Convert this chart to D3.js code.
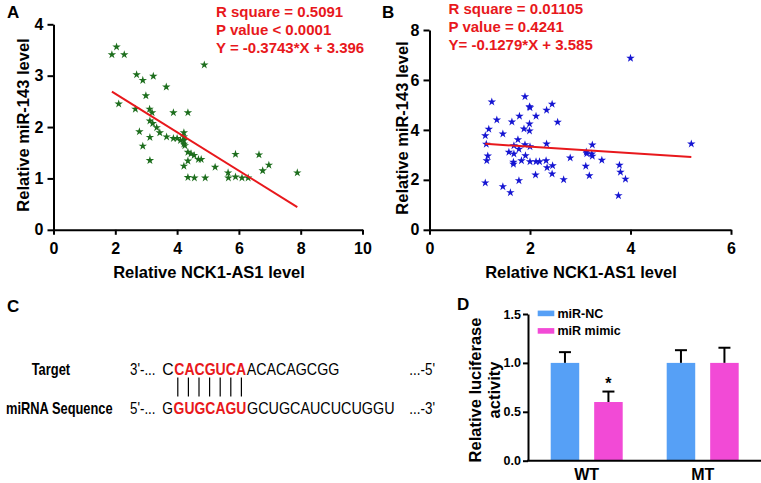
<!DOCTYPE html>
<html><head><meta charset="utf-8">
<script src="https://cdn.jsdelivr.net/npm/d3@7"></script>
<style>body{margin:0;background:#fff}svg{display:block}text{font-family:"Liberation Sans",Arial,Helvetica,sans-serif}</style>
</head><body><svg id="c" width="761" height="483"></svg>
<script>
// ---- Panel A data ----
const aX=[1.89,2.04,2.29,2.11,2.69,2.89,3.23,2.99,3.65,4.88,2.65,3.11,3.19,3.12,3.21,3.34,3.44,2.78,3.12,2.89,3.12,3.66,3.88,4.35,3.88,4.0,4.11,4.22,4.22,4.22,4.22,4.25,4.35,4.45,4.55,4.35,4.69,4.78,4.22,4.35,4.56,4.91,5.23,5.65,5.66,5.89,5.89,6.10,6.30,6.65,6.77,6.97,7.89];
const aY=[3.41,3.56,3.41,2.45,3.02,2.91,2.99,2.61,2.78,3.21,2.35,2.35,2.28,2.12,2.07,1.99,1.89,1.91,1.80,1.63,1.35,1.81,2.28,2.28,1.78,1.78,1.74,1.89,1.81,1.74,1.67,1.64,1.51,1.48,1.45,1.34,1.37,1.37,1.24,1.02,1.01,1.01,1.22,1.11,1.01,1.47,1.03,1.01,1.01,1.46,1.15,1.26,1.11];
const aFit={slope:-0.3743,intercept:3.396};
const aStats=["R square = 0.5091","P value < 0.0001","Y = -0.3743*X + 3.396"];
const aXTicks=[0,2,4,6,8,10], aYTicks=[0,1,2,3,4];
// ---- Panel B data ----
const bX=[1.11,1.13,1.18,1.24,1.14,1.16,1.11,1.34,1.46,1.46,1.58,1.61,1.64,1.67,1.67,1.68,1.68,1.76,1.79,1.78,1.78,1.83,1.88,1.90,1.90,1.91,1.99,2.0,1.99,1.99,2.0,2.0,2.12,2.12,2.19,2.11,2.33,2.33,2.32,2.34,2.44,2.45,2.44,2.55,2.67,2.80,3.12,3.13,3.11,3.18,3.24,3.23,3.24,3.43,3.78,3.80,3.90,3.76,4.0,5.21];
const bY=[3.77,3.43,4.03,5.12,2.77,2.96,1.88,4.40,3.84,1.73,3.11,1.49,4.32,2.71,2.63,3.04,3.37,3.61,4.55,3.23,1.97,2.77,4.04,5.33,3.41,2.97,4.93,4.89,4.24,3.96,3.33,2.73,4.55,2.73,2.73,2.20,4.79,3.44,2.77,2.49,5.03,2.57,2.24,4.31,2.01,2.88,3.12,3.05,2.55,2.17,3.40,3.04,2.95,2.79,2.59,2.31,2.03,1.37,6.87,3.44];
const bFit={slope:-0.1279,intercept:3.585};
const bStats=["R square = 0.01105","P value = 0.4241","Y= -0.1279*X + 3.585"];
const bXTicks=[0,2,4,6], bYTicks=[0,2,4,6,8];
// ---- Panel C sequences ----
const targetParts=[["C",false],["CACGUCA",true],["ACACAGCGG",false]];
const mirnaParts=[["G",false],["GUGCAGU",true],["GCUGCAUCUCUGGU",false]];
const pairCount=7;
// ---- Panel D data ----
const groups=["WT","MT"];
const series=["miR-NC","miR mimic"];
const ncValues=[1.0,1.0], mimicValues=[0.60,1.0];
const ncErr=[0.11,0.13], mimicErr=[0.107,0.155];
const dYTicks=[0,0.5,1.0,1.5];
const mimicSig=["*",""];

const svg=d3.select("#c");
const FONT='"Liberation Sans",Arial,sans-serif';
const RED="#e8181c";

function styleAxis(g,fs){
  g.select(".domain").attr("stroke","#000").attr("stroke-width",2);
  g.selectAll(".tick line").attr("stroke","#000").attr("stroke-width",2);
  g.selectAll(".tick text").attr("font-size",fs).attr("font-weight","bold").attr("fill","#000").attr("font-family",FONT);
}

function scatterPanel(o){
  const x=d3.scaleLinear().domain(o.xd).range(o.xr);
  const y=d3.scaleLinear().domain(o.yd).range(o.yr);
  const g=svg.append("g");
  const gx=g.append("g").attr("transform",`translate(0,${o.yr[0]})`)
    .call(d3.axisBottom(x).tickValues(o.xt).tickSize(5).tickSizeOuter(0).tickPadding(8).tickFormat(d3.format("d")));
  styleAxis(gx,16);
  const gy=g.append("g").attr("transform",`translate(${o.xr[0]},0)`)
    .call(d3.axisLeft(y).tickValues(o.yt).tickSize(6).tickSizeOuter(0).tickPadding(4).tickFormat(d3.format("d")));
  styleAxis(gy,16);
  const star=d3.symbol().type(d3.symbolStar).size(22);
  g.selectAll("path.pt").data(o.X).join("path").attr("class","pt")
    .attr("d",star).attr("fill",o.color)
    .attr("transform",(d,i)=>`translate(${x(d)},${y(o.Y[i])})`);
  const ext=d3.extent(o.X);
  g.append("line").attr("x1",x(ext[0])).attr("x2",x(ext[1]))
    .attr("y1",y(o.fit.slope*ext[0]+o.fit.intercept)).attr("y2",y(o.fit.slope*ext[1]+o.fit.intercept))
    .attr("stroke",RED).attr("stroke-width",2);
  o.stats.forEach((s,i)=>g.append("text").attr("x",o.sx).attr("y",o.sy+i*18.2).text(s)
    .attr("font-size",15).attr("font-weight","bold").attr("fill",RED));
  g.append("text").attr("x",o.label[0]).attr("y",o.label[1]).text(o.label[2]).attr("font-size",17).attr("font-weight","bold");
  g.append("text").attr("x",o.xtitle[0]).attr("y",o.xtitle[1]).attr("text-anchor","middle").text("Relative NCK1-AS1 level")
    .attr("font-size",16.5).attr("font-weight","bold");
  g.append("text").attr("transform",`translate(${o.ytitle[0]},${o.ytitle[1]}) rotate(-90)`).attr("text-anchor","middle").text("Relative miR-143 level")
    .attr("font-size",16.5).attr("font-weight","bold");
}

scatterPanel({X:aX,Y:aY,xd:[0,10],yd:[0,4],xr:[53.5,362.5],yr:[229.8,24.3],xt:aXTicks,yt:aYTicks,color:"#1d6e1d",
  fit:aFit,stats:aStats,sx:216,sy:17,label:[7,18,"A"],xtitle:[209,277.5],ytitle:[29,125]});
scatterPanel({X:bX,Y:bY,xd:[0,6],yd:[0,8],xr:[429.5,731],yr:[229.8,30],xt:bXTicks,yt:bYTicks,color:"#1515d2",
  fit:bFit,stats:bStats,sx:448.5,sy:14,label:[382,18,"B"],xtitle:[581,277.5],ytitle:[408,128]});

// ---- Panel C ----
const gc=svg.append("g");
gc.append("text").attr("x",7).attr("y",312).text("C").attr("font-size",17).attr("font-weight","bold");
// condensed text: scale horizontally so the rendered box has the target width
function squeezed(x,y,str,w,fs,bold,fill){
  const t=gc.append("text").attr("x",0).attr("y",0).text(str).attr("font-size",fs)
    .attr("font-weight",bold?"bold":"normal").attr("fill",fill||"#000");
  const nat=t.node().getComputedTextLength();
  t.attr("transform",`translate(${x},${y}) scale(${w/nat},1)`);
  return t;
}
const rows=[{name:"Target",nx:[31.7,38.5],y:375,p5:"3'-...",p3:"...-5'",parts:targetParts,widths:[12,72.4,93.3]},
            {name:"miRNA Sequence",nx:[6,106.7],y:414,p5:"5'-...",p3:"...-3'",parts:mirnaParts,widths:[11.3,73.4,148.3]}];
rows.forEach(r=>{
  squeezed(r.nx[0],r.y,r.name,r.nx[1],16.5,true);
  squeezed(130,r.y,r.p5,25.5,16.5,false);
  squeezed(409.3,r.y,r.p3,25.7,16.5,false);
  let cx=162.3;
  r.parts.forEach((p,i)=>{
    squeezed(cx,r.y,p[0],r.widths[i]-0.6,17,p[1],p[1]?RED:"#000");
    cx+=r.widths[i];
  });
});
const pairScale=d3.scaleBand().domain(d3.range(pairCount)).range([172.5,246.7]);
gc.selectAll("line.pair").data(d3.range(pairCount)).join("line").attr("class","pair")
  .attr("x1",d=>pairScale(d)+pairScale.bandwidth()/2).attr("x2",d=>pairScale(d)+pairScale.bandwidth()/2)
  .attr("y1",377.5).attr("y2",396.5).attr("stroke","#000").attr("stroke-width",1.2);

// ---- Panel D ----
const gd=svg.append("g");
const colors=["#56a0f6","#f24ad6"];
const yD=d3.scaleLinear().domain([0,1.5]).range([460.7,314]);
const xD=d3.scaleBand().domain(groups).range([528.7,760.7]);
const xS=d3.scaleBand().domain(series).range([22,94]).paddingInner(0.344);
const gyD=gd.append("g").attr("transform","translate(528,0)")
  .call(d3.axisLeft(yD).tickValues(dYTicks).tickSize(5).tickSizeOuter(0).tickPadding(2).tickFormat(d3.format(".1f")));
styleAxis(gyD,12.5);
const barData=[];
groups.forEach((g,i)=>{
  barData.push({g,s:series[0],v:ncValues[i],e:ncErr[i],c:colors[0],sig:""});
  barData.push({g,s:series[1],v:mimicValues[i],e:mimicErr[i],c:colors[1],sig:mimicSig[i]});
});
const bw=xS.bandwidth();
barData.forEach(d=>{
  const x0=xD(d.g)+xS(d.s), cxb=x0+bw/2;
  gd.append("line").attr("x1",cxb).attr("x2",cxb).attr("y1",yD(d.v)).attr("y2",yD(d.v+d.e)).attr("stroke","#000").attr("stroke-width",2);
  gd.append("line").attr("x1",cxb-6).attr("x2",cxb+6).attr("y1",yD(d.v+d.e)).attr("y2",yD(d.v+d.e)).attr("stroke","#000").attr("stroke-width",2);
  gd.append("rect").attr("x",x0).attr("y",yD(d.v)).attr("width",bw).attr("height",yD(0)-yD(d.v)).attr("fill",d.c);
  if(d.sig) gd.append("text").attr("x",cxb).attr("y",yD(d.v+d.e)-3).attr("text-anchor","middle").text(d.sig)
    .attr("font-size",16).attr("font-weight","bold");
});
gd.append("line").attr("x1",527).attr("x2",761).attr("y1",yD(0)).attr("y2",yD(0)).attr("stroke","#000").attr("stroke-width",2);
groups.forEach(g=>gd.append("text").attr("x",xD(g)+xD.bandwidth()/2).attr("y",480).attr("text-anchor","middle").text(g)
  .attr("font-size",16).attr("font-weight","bold"));
series.forEach((s,i)=>{
  gd.append("rect").attr("x",537.7).attr("y",310.6+i*17.5).attr("width",16.6).attr("height",5.6).attr("fill",colors[i]);
  gd.append("text").attr("x",557.5).attr("y",317.8+i*17.5).text(s).attr("font-size",12.5).attr("font-weight","bold");
});
gd.append("text").attr("x",457).attr("y",310).text("D").attr("font-size",17).attr("font-weight","bold");
gd.append("text").attr("transform","translate(481,390) rotate(-90)").attr("text-anchor","middle")
  .attr("font-size",16.5).attr("font-weight","bold").text("Relative luciferase");
gd.append("text").attr("transform","translate(500,390) rotate(-90)").attr("text-anchor","middle")
  .attr("font-size",16.5).attr("font-weight","bold").text("activity");
</script></body></html>
